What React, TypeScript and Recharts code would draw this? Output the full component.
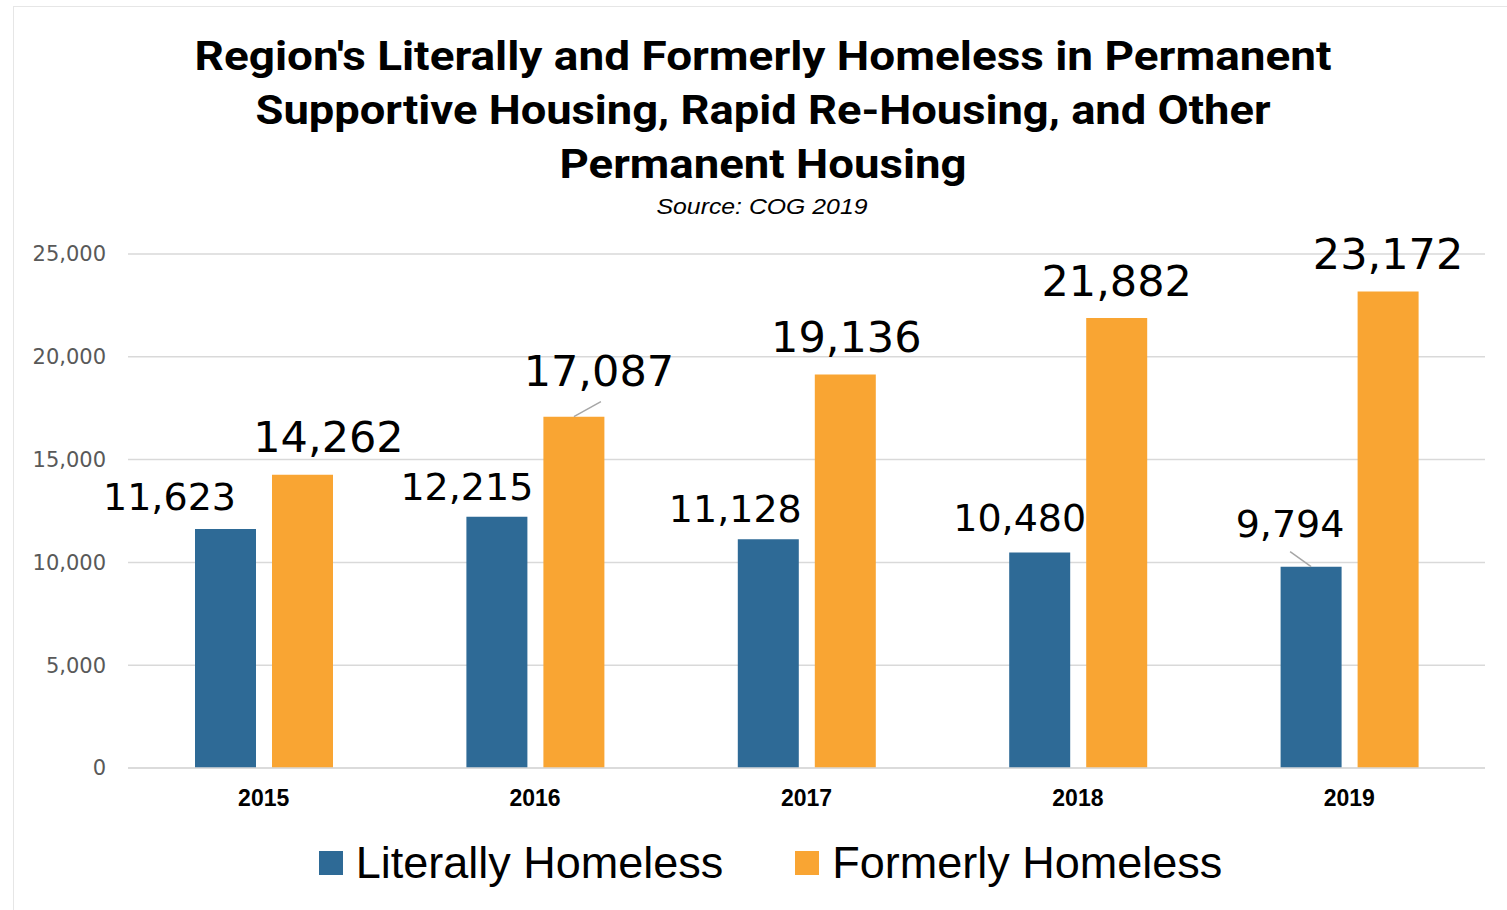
import { BarChart, Bar, XAxis, YAxis, CartesianGrid, LabelList } from 'recharts';

const years = ['2015', '2016', '2017', '2018', '2019'];
const literallyHomeless = [11623, 12215, 11128, 10480, 9794];
const formerlyHomeless = [14262, 17087, 19136, 21882, 23172];
const yTicks = [0, 5000, 10000, 15000, 20000, 25000];

const titleLines = [
  "Region's Literally and Formerly Homeless in Permanent",
  'Supportive Housing, Rapid Re-Housing, and Other',
  'Permanent Housing',
];
const subtitle = 'Source: COG 2019';

const BLUE = '#2E6A96';
const ORANGE = '#F9A533';

// label nudges (dx from bar centre, rise above bar top, leader line)
const blueNudge = [
  { dx: -56, rise: 32, leader: false },
  { dx: -30, rise: 30, leader: false },
  { dx: -33, rise: 30, leader: false },
  { dx: -20, rise: 35, leader: false },
  { dx: -21, rise: 43, leader: true },
];
const orangeNudge = [
  { dx: 26, rise: 38, leader: false },
  { dx: 25, rise: 46, leader: true },
  { dx: 1, rise: 38, leader: false },
  { dx: 0, rise: 37, leader: false },
  { dx: 0, rise: 38, leader: false },
];

const data = years.map((year, i) => ({
  year,
  literally: literallyHomeless[i],
  formerly: formerlyHomeless[i],
}));

const fmt = (v: number) => v.toLocaleString('en-US');

function makeLabel(nudge: typeof blueNudge, fontSize: number) {
  return (props: any) => {
    const { x, y, width, value, index } = props;
    const n = nudge[index];
    const cx = Number(x) + Number(width) / 2;
    const top = Number(y);
    return (
      <g>
        {n.leader && (
          <line
            x1={cx}
            y1={top}
            x2={cx + (n.dx > 0 ? 27 : -21)}
            y2={top - 15}
            stroke="#a6a6a6"
            strokeWidth={1.5}
          />
        )}
        <text
          x={cx + n.dx}
          y={top - n.rise}
          textAnchor="middle"
          dominantBaseline="central"
          fontFamily="DejaVu Sans"
          fontSize={fontSize}
          fill="#000"
        >
          {fmt(value)}
        </text>
      </g>
    );
  };
}

const legendItems = [
  { name: 'Literally Homeless', color: BLUE },
  { name: 'Formerly Homeless', color: ORANGE },
];

export default function App() {
  return (
    <div style={{ position: 'absolute', left: 0, top: 0, width: 1507, height: 910, background: '#fff' }}>
      <div
        style={{
          position: 'absolute',
          left: 13,
          top: 6,
          width: 1500,
          height: 910,
          border: '1px solid #e6e6e6',
          boxSizing: 'border-box',
        }}
      />
      <svg width={1507} height={230} style={{ position: 'absolute', left: 0, top: 0 }}>
        {titleLines.map((line, i) => (
          <text
            key={i}
            x={763}
            y={70 + i * 54}
            textAnchor="middle"
            fontFamily="Roboto"
            fontWeight="bold"
            fontSize={40}
            textLength={[1137, 1015, 407][i]}
            lengthAdjust="spacingAndGlyphs"
            fill="#000"
          >
            {line}
          </text>
        ))}
        <text
          x={762}
          y={214}
          textAnchor="middle"
          fontFamily="Liberation Sans"
          fontStyle="italic"
          fontSize={22}
          textLength={211}
          lengthAdjust="spacingAndGlyphs"
          fill="#000"
        >
          {subtitle}
        </text>
      </svg>
      <div style={{ position: 'absolute', left: 0, top: 0 }}>
        <BarChart
          width={1507}
          height={910}
          data={data}
          margin={{ top: 254, right: 22, left: 28, bottom: 102 }}
          barGap={16}
          barCategoryGap="24.6%"
        >
          <CartesianGrid vertical={false} stroke="#d9d9d9" strokeWidth={1.5} />
          <XAxis
            dataKey="year"
            axisLine={{ stroke: '#d9d9d9', strokeWidth: 1.5 }}
            tickLine={false}
            tick={{ fontFamily: 'Liberation Sans', fontWeight: 'bold', fontSize: 23, fill: '#000' }}
            tickMargin={16}
            height={40}
          />
          <YAxis
            domain={[0, 25000]}
            ticks={yTicks}
            tickFormatter={fmt}
            axisLine={false}
            tickLine={false}
            width={100}
            tickMargin={16}
            tick={{ fontFamily: 'DejaVu Sans', fontSize: 21, fill: '#595959' }}
          />
          <Bar dataKey="literally" name="Literally Homeless" fill={BLUE} barSize={61} isAnimationActive={false}>
            <LabelList dataKey="literally" content={makeLabel(blueNudge, 38)} />
          </Bar>
          <Bar dataKey="formerly" name="Formerly Homeless" fill={ORANGE} barSize={61} isAnimationActive={false}>
            <LabelList dataKey="formerly" content={makeLabel(orangeNudge, 43)} />
          </Bar>
        </BarChart>
      </div>
      <div
        style={{
          position: 'absolute',
          left: 0,
          top: 837,
          width: 1507,
          display: 'flex',
          justifyContent: 'center',
          gap: 72,
          paddingLeft: 34,
          boxSizing: 'border-box',
        }}
      >
        {legendItems.map((it) => (
          <div key={it.name} style={{ display: 'flex', alignItems: 'center' }}>
            <span style={{ width: 24, height: 24, background: it.color, marginRight: 13 }} />
            <span style={{ fontFamily: 'Liberation Sans', fontSize: 45, color: '#000', lineHeight: '52px' }}>
              {it.name}
            </span>
          </div>
        ))}
      </div>
    </div>
  );
}
